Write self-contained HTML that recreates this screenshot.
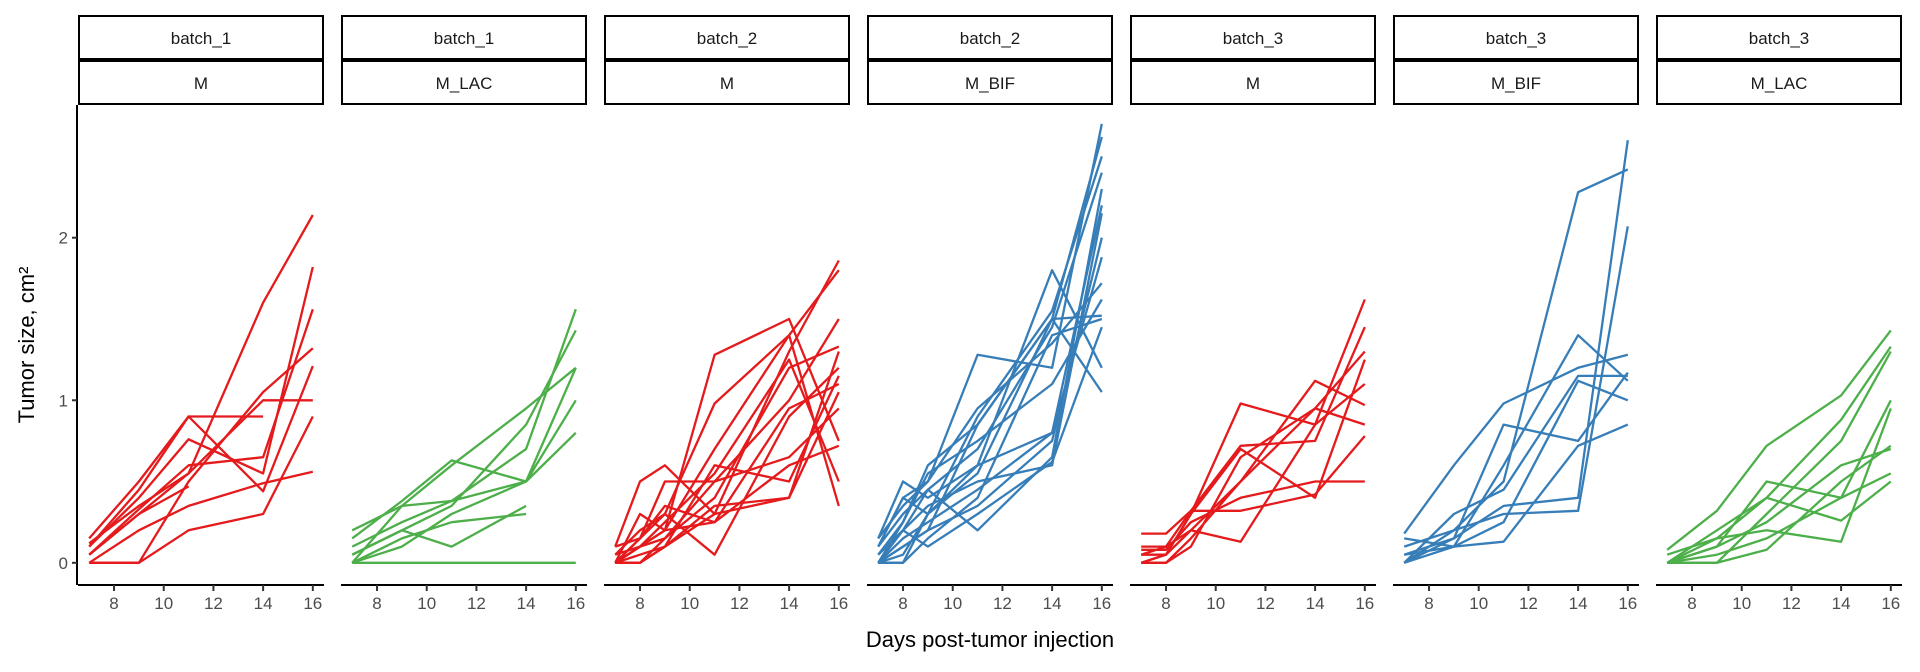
<!DOCTYPE html>
<html><head><meta charset="utf-8"><style>
body{margin:0;background:#fff;}
svg{display:block;font-family:"Liberation Sans",Arial,sans-serif;}
</style></head><body>
<svg id="chart" width="1920" height="672" viewBox="0 0 1920 672" xmlns="http://www.w3.org/2000/svg"></svg>
<script>
const panelBatches = ["batch_1","batch_1","batch_2","batch_2","batch_3","batch_3","batch_3"];
const panelGroups = ["M","M_LAC","M","M_BIF","M","M_BIF","M_LAC"];
const xTicks = [8,10,12,14,16];
const yTicks = [0,1,2];
const groupColors = {"M":"#E41A1C","M_LAC":"#4DAF4A","M_BIF":"#377EB8"};
const panelDays = [
 [7,9,11,14,16],
 [7,9,11,14,16],
 [7,8,9,11,14,16],
 [7,8,9,11,14,16],
 [7,8,9,11,14,16],
 [7,9,11,14,16],
 [7,9,11,14,16]
];
const p1Series = [
 [0.05,0.30,0.55,1.60,2.14],
 [0.15,0.50,0.90,0.90,null],
 [0.10,0.45,0.90,0.44,1.21],
 [0.10,0.40,0.76,0.55,1.82],
 [0.05,0.33,0.60,0.65,1.56],
 [0.12,0.35,0.55,1.00,1.00],
 [0.00,0.00,0.50,1.05,1.32],
 [0.00,0.20,0.35,0.49,0.56],
 [0.00,0.00,0.20,0.30,0.90],
 [0.05,0.30,0.47,null,null]
];
const p2Series = [
 [0.00,0.00,0.00,0.00,0.00],
 [0.20,0.35,0.60,0.95,1.20],
 [0.15,0.38,0.63,0.50,1.20],
 [0.10,0.25,0.38,0.70,1.56],
 [0.05,0.20,0.35,0.85,1.43],
 [0.00,0.10,0.30,0.50,0.80],
 [0.00,0.35,0.38,0.50,1.00],
 [0.05,0.20,0.10,0.35,null],
 [0.00,0.15,0.25,0.30,null]
];
const p3Series = [
 [0.10,0.50,0.60,0.30,1.30,1.86],
 [0.00,0.10,0.20,1.28,1.50,0.75],
 [0.00,0.30,0.20,0.70,1.40,1.80],
 [0.00,0.15,0.50,0.50,1.00,1.50],
 [0.05,0.20,0.30,0.98,1.40,0.35],
 [0.00,0.10,0.15,0.40,1.20,1.33],
 [0.00,0.00,0.10,0.30,0.40,1.30],
 [0.00,0.15,0.30,0.05,0.90,1.20],
 [0.00,0.05,0.10,0.60,0.50,1.15],
 [0.05,0.10,0.20,0.25,0.95,1.10],
 [0.00,0.00,0.15,0.50,0.65,0.95],
 [0.00,0.10,0.25,0.55,1.25,0.50],
 [0.00,0.00,0.10,0.35,0.40,1.05],
 [0.10,0.15,0.35,0.25,0.60,0.72]
];
const p4Series = [
 [0.10,0.40,0.50,1.28,1.20,2.70],
 [0.00,0.25,0.60,0.85,1.50,2.62],
 [0.15,0.50,0.40,0.60,1.80,1.20],
 [0.00,0.00,0.30,0.90,1.55,2.50],
 [0.05,0.20,0.45,0.70,1.45,2.40],
 [0.00,0.10,0.20,0.85,1.50,1.05],
 [0.10,0.30,0.45,0.20,0.65,2.30],
 [0.00,0.15,0.25,0.45,0.80,2.20],
 [0.05,0.20,0.35,0.50,0.60,2.15],
 [0.00,0.00,0.15,0.40,1.40,1.50],
 [0.10,0.40,0.30,0.55,1.50,1.52],
 [0.00,0.10,0.20,0.35,0.75,2.00],
 [0.15,0.35,0.50,0.95,1.35,1.72],
 [0.00,0.05,0.30,0.60,0.80,1.88],
 [0.05,0.25,0.55,0.75,1.10,1.62],
 [0.00,0.20,0.10,0.30,0.62,1.45]
];
const p5Series = [
 [0.05,0.05,0.30,0.98,0.85,1.62],
 [0.18,0.18,0.32,0.72,0.75,1.45],
 [0.00,0.05,0.20,0.50,1.12,0.97],
 [0.00,0.00,0.10,0.65,0.95,1.30],
 [0.08,0.08,0.25,0.40,0.50,0.50],
 [0.00,0.05,0.30,0.70,0.40,1.25],
 [0.05,0.10,0.20,0.13,0.85,1.10],
 [0.00,0.00,0.15,0.50,0.95,0.85],
 [0.10,0.10,0.32,0.32,0.42,0.78]
];
const p6Series = [
 [0.00,0.20,0.50,2.28,2.42],
 [0.05,0.15,0.35,0.40,2.60],
 [0.10,0.20,0.30,0.32,2.07],
 [0.18,0.60,0.98,1.20,1.28],
 [0.00,0.15,0.85,0.75,1.17],
 [0.05,0.10,0.60,1.40,1.12],
 [0.00,0.10,0.25,1.12,1.00],
 [0.15,0.10,0.13,0.72,0.85],
 [0.00,0.30,0.45,1.15,1.15]
];
const p7Series = [
 [0.08,0.32,0.72,1.03,1.43],
 [0.00,0.20,0.40,0.88,1.33],
 [0.00,0.00,0.30,0.75,1.30],
 [0.00,0.10,0.50,0.40,1.00],
 [0.05,0.15,0.20,0.13,0.95],
 [0.00,0.00,0.08,0.50,0.72],
 [0.00,0.10,0.25,0.60,0.70],
 [0.00,0.05,0.15,0.40,0.55],
 [0.00,0.15,0.40,0.26,0.50]
];
const allSeries = [p1Series,p2Series,p3Series,p4Series,p5Series,p6Series,p7Series];

const NS="http://www.w3.org/2000/svg";
const svg=document.getElementById('chart');
const P0=78, PW=246, GAP=17, PT=105, PB=585;
const dayMin=6.55, dayMax=16.45;
const vMin=-0.1365, vMax=2.8165;
function xScale(i,d){return P0+i*(PW+GAP)+(d-dayMin)/(dayMax-dayMin)*PW;}
function yScale(v){return PB-(v-vMin)/(vMax-vMin)*(PB-PT);}
function mk(tag,attrs,parent){const e=document.createElementNS(NS,tag);for(const k in attrs)e.setAttribute(k,attrs[k]);(parent||svg).appendChild(e);return e;}

// y axis
const yAxis=mk('g',{});


mk('line',{x1:P0-1,x2:P0-1,y1:PT,y2:PB,stroke:'#000','stroke-width':2},yAxis);
yTicks.forEach(t=>{
  const y=yScale(t);
  mk('line',{x1:P0-6,x2:P0-1,y1:y,y2:y,stroke:'#333','stroke-width':2},yAxis);
  const tx=mk('text',{x:P0-10,y:y+6,'text-anchor':'end','font-size':17,fill:'#4d4d4d'},yAxis);
  tx.textContent=t;
  
  
});
const yt=mk('text',{x:0,y:0,transform:'translate(34,345) rotate(-90)','text-anchor':'middle','font-size':22,fill:'#000'});
yt.textContent='Tumor size, cm²';



panelBatches.forEach((b,i)=>{
  const left=P0+i*(PW+GAP);
  const g=mk('g',{});
  
  
  // strips
  const s1=mk('rect',{x:left+1,y:16,width:PW-2,height:43,fill:'#fff',stroke:'#000','stroke-width':2},g);
  
  
  const t1=mk('text',{x:left+PW/2,y:44,'text-anchor':'middle','font-size':17,fill:'#1a1a1a'},g);
  t1.textContent=b;
  
  
  const s2=mk('rect',{x:left+1,y:61,width:PW-2,height:43,fill:'#fff',stroke:'#000','stroke-width':2},g);
  
  
  const t2=mk('text',{x:left+PW/2,y:89,'text-anchor':'middle','font-size':17,fill:'#1a1a1a'},g);
  t2.textContent=panelGroups[i];
  
  
  // x axis
  mk('line',{x1:left,x2:left+PW,y1:PB,y2:PB,stroke:'#000','stroke-width':2},g);
  xTicks.forEach(t=>{
    const x=xScale(i,t);
    mk('line',{x1:x,x2:x,y1:PB,y2:PB+6,stroke:'#333','stroke-width':2},g);
    const tx=mk('text',{x:x,y:PB+24,'text-anchor':'middle','font-size':17,fill:'#4d4d4d'},g);
    tx.textContent=t;
    
    
  });
  // series
  const days=panelDays[i];
  allSeries[i].forEach((ser,k)=>{
    let d='';
    ser.forEach((v,j)=>{ if(v===null) return; d+=(d?'L':'M')+xScale(i,days[j]).toFixed(1)+','+yScale(v).toFixed(1);});
    const p=mk('path',{d:d,fill:'none',stroke:groupColors[panelGroups[i]],'stroke-width':2.3,'stroke-linejoin':'round'},g);
    
    
  });
});
const xt=mk('text',{x:990,y:647,'text-anchor':'middle','font-size':22,fill:'#000'});
xt.textContent='Days post-tumor injection';


</script>
</body></html>
